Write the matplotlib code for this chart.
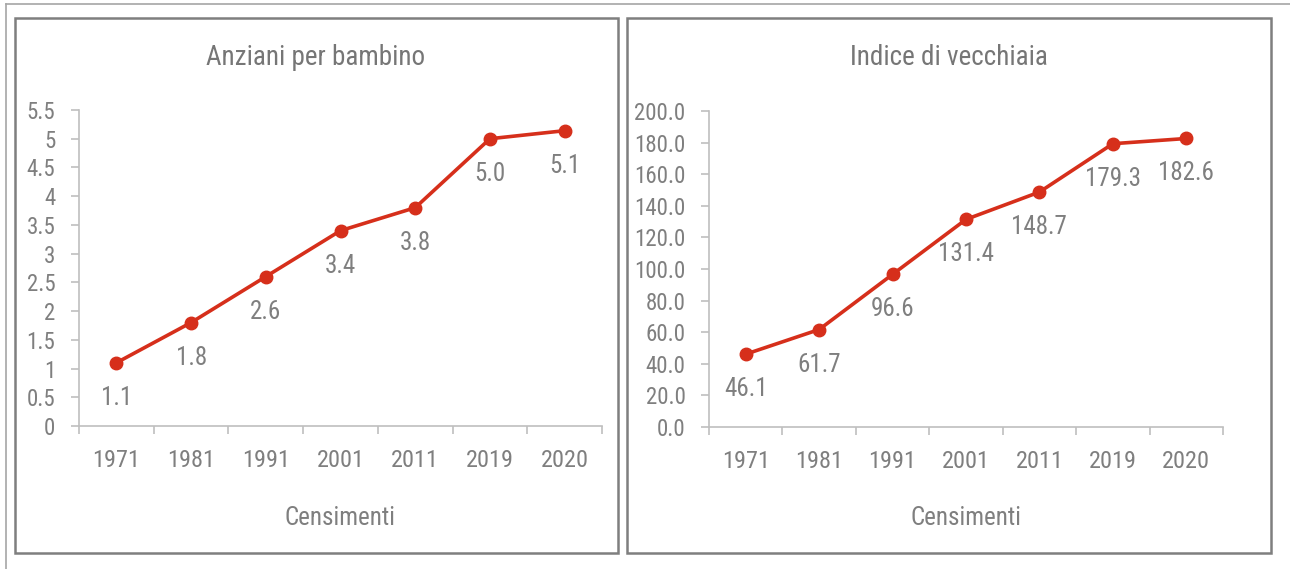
import numpy as np
import matplotlib
matplotlib.use('Agg')
import matplotlib.pyplot as plt
from matplotlib.patches import Rectangle
from matplotlib.lines import Line2D

# data
anni = ['1971', '1981', '1991', '2001', '2011', '2019', '2020']
anziani_per_bambino = [1.1, 1.8, 2.6, 3.4, 3.8, 5.0, 5.14]
indice_vecchiaia = [46.1, 61.7, 96.6, 131.4, 148.7, 179.3, 182.6]

plt.rcParams['font.family'] = ['Roboto Condensed', 'Liberation Sans', 'DejaVu Sans']

rosso = '#d62f1b'
grigio = '#7f7f7f'
asse = '#bfbfbf'

W, H = 1290, 569
fig = plt.figure(figsize=(W/100, H/100), dpi=100)

def fx(px):
    return px / W

def fy(py):
    return 1 - py / H

# outer frame lines (top and left only)
fig.add_artist(Line2D([fx(6), 1], [fy(4), fy(4)], transform=fig.transFigure, color='#a6a6a6', lw=1.2))
fig.add_artist(Line2D([fx(6), fx(6)], [fy(4), 0], transform=fig.transFigure, color='#a6a6a6', lw=1.2))

# panel borders
for x0, x1 in [(15, 618), (627, 1271)]:
    fig.add_artist(Rectangle((fx(x0), fy(553)), fx(x1 - x0), (553 - 18) / H,
                             transform=fig.transFigure, fill=False, edgecolor='#7f7f7f', lw=1.8))

def pannello(rect, valori, titolo, ymax, passo, fmt, tx):
    ax = fig.add_axes(rect)
    x = np.arange(len(anni))
    ax.plot(x, valori, color=rosso, lw=2.6, marker='o', ms=9, zorder=3)
    for xi, v in zip(x, valori):
        ax.annotate('{:.1f}'.format(v), (xi, v), xytext=(0, -35), textcoords='offset pixels',
                    ha='center', va='center', color=grigio, fontsize=18)
    ax.set_xlim(-0.5, len(anni) - 0.5)
    ax.set_ylim(0, ymax)
    yt = np.arange(0, ymax + passo / 2, passo)
    ax.set_yticks(yt)
    ax.set_yticklabels([fmt(t) for t in yt])
    ax.set_xticks(x)
    ax.set_xticklabels(anni)
    ax.set_xticks(np.arange(-0.5, len(anni)), minor=True)
    ax.tick_params(axis='x', which='major', length=0, pad=16.5, labelsize=17.5, labelcolor=grigio)
    ax.tick_params(axis='x', which='minor', length=6, width=1.2, color=asse, direction='out')
    ax.tick_params(axis='y', length=6, width=1.2, color=asse, pad=11, labelsize=16.5, labelcolor=grigio)
    for s in ['top', 'right']:
        ax.spines[s].set_visible(False)
    for s in ['left', 'bottom']:
        ax.spines[s].set_color(asse)
        ax.spines[s].set_linewidth(1.2)
    fig.text(fx(tx), fy(57), titolo, ha='center', va='center', color='#767676', fontsize=19.5)
    fig.text(rect[0] + rect[2] / 2, fy(518), 'Censimenti', ha='center', va='center', color=grigio, fontsize=18)
    return ax

pannello([fx(79), fy(426), fx(523), 316 / H], anziani_per_bambino, 'Anziani per bambino',
         5.5, 0.5, lambda t: '{:g}'.format(round(t, 1)), 316)
pannello([fx(709), fy(427), fx(514), 316 / H], indice_vecchiaia, 'Indice di vecchiaia',
         200, 20, lambda t: '{:.1f}'.format(t), 949)

plt.savefig('out.png', dpi=100)
